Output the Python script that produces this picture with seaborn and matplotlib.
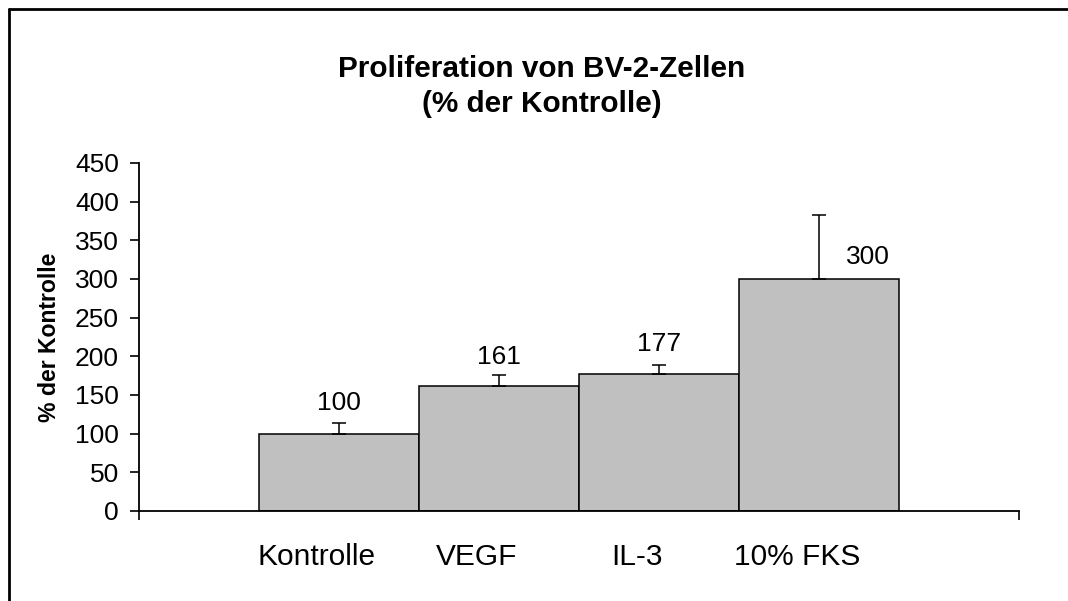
import matplotlib
matplotlib.use("Agg")
import matplotlib.pyplot as plt
import matplotlib.transforms as mtransforms
from matplotlib.lines import Line2D
import seaborn as sns

# data
categories = ["Kontrolle", "VEGF", "IL-3", "10% FKS"]
values = [100, 161, 177, 300]
upper_err = [14, 15, 12, 83]
value_labels = ["100", "161", "177", "300"]
y_ticks = [0, 50, 100, 150, 200, 250, 300, 350, 400, 450]

sns.set_style("white")
plt.rcParams["font.family"] = ["Liberation Sans", "DejaVu Sans"]
plt.rcParams["text.color"] = "black"
plt.rcParams["axes.labelcolor"] = "black"

fig = plt.figure(figsize=(10.68, 6.01), dpi=100)
ax = fig.add_axes([139 / 1068, 1 - 511 / 601, 880 / 1068, 348 / 601])

sns.barplot(x=categories, y=values, width=1, color="#C0C0C0", edgecolor="black",
            linewidth=1.1, errorbar=None, saturation=1, ax=ax)

# upper error bars only
xpos = list(range(len(categories)))
ax.errorbar(xpos, values, yerr=[[0] * len(values), upper_err], fmt="none",
            ecolor="black", elinewidth=1.1, capsize=5, capthick=1.1, zorder=3)

# value labels (last one moved right, as in the original)
label_offsets = [(0, 22), (0, 21), (0, 22), (35, 16)]
for x, v, lab, off in zip(xpos, values, value_labels, label_offsets):
    ax.annotate(lab, (x, v), xytext=off, textcoords="offset points",
                ha="center", va="center", fontsize=19, color="black")

ax.set_xlim(-1.25, 4.25)
ax.set_ylim(0, 450)
ax.set_yticks(y_ticks)
ax.tick_params(axis="y", direction="out", length=6.5, width=1.2, pad=8,
               labelsize=19, left=True, colors="black")

ax.set_xticks(xpos)
ax.set_xticklabels(categories)
ax.tick_params(axis="x", length=0, pad=23, labelsize=21.5, colors="black")
shift = mtransforms.ScaledTranslation(-22 / 100, 0, fig.dpi_scale_trans)
for lbl in ax.get_xticklabels():
    lbl.set_transform(lbl.get_transform() + shift)

# end ticks on the x axis
ax.set_xticks([-1.25, 4.25], minor=True)
ax.tick_params(axis="x", which="minor", direction="out", length=6.5, width=1.2,
               bottom=True, colors="black")

for side in ["top", "right"]:
    ax.spines[side].set_visible(False)
for side in ["left", "bottom"]:
    ax.spines[side].set_linewidth(1.3)
    ax.spines[side].set_color("black")

ax.set_ylabel("% der Kontrolle", fontsize=16.6, fontweight="bold", color="black")
ax.yaxis.set_label_coords(-0.0886, 0.5)

fig.text(542 / 1068, 1 - 86.5 / 601, "Proliferation von BV-2-Zellen\n(% der Kontrolle)",
         ha="center", va="center", fontsize=21.4, fontweight="bold",
         linespacing=1.3, color="black")

# outer chart frame (only top and left visible in the crop)
fig.add_artist(Line2D([9 / 1068, 1.0], [1 - 9 / 601, 1 - 9 / 601], color="black",
                      linewidth=2, transform=fig.transFigure))
fig.add_artist(Line2D([9 / 1068, 9 / 1068], [1 - 9 / 601, 0], color="black",
                      linewidth=2, transform=fig.transFigure))

fig.savefig("out.png", dpi=100)
